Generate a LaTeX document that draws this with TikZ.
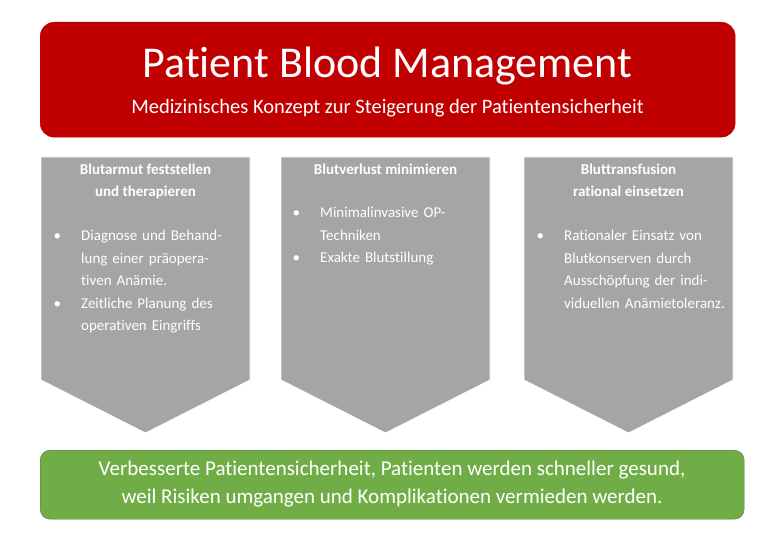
\documentclass[tikz,border=0pt]{standalone}
\usepackage{fontspec}
\setmainfont{Carlito}[Ligatures=CommonOff]
\definecolor{pbred}{HTML}{C00000}
\definecolor{pbgray}{HTML}{A5A5A5}
\definecolor{pbgreen}{HTML}{70AD47}
\definecolor{pbgreenb}{HTML}{507E32}
\newcommand{\bitem}[1]{\makebox[0pt][r]{\textbullet\hspace{20pt}}#1\par}
\begin{document}
\begin{tikzpicture}[x=1pt,y=-1pt,
  arrowbox/.style={fill=pbgray,draw=white,line width=0.8pt},
  head/.style={text=white,font=\bfseries\fontsize{15}{22.5}\selectfont,align=center,anchor=north},
  body/.style={text=white,font=\fontsize{15}{22.5}\selectfont,align=left,anchor=north west,inner sep=0pt}]
\useasboundingbox (0,0) rectangle (777,545);
\node[fill=pbred,draw=pbred,rounded corners=14pt,minimum width=695pt,minimum height=115pt,anchor=north west] (title) at (40,22) {};
\node[text=white,font=\fontsize{44}{50}\selectfont] (t1) at (387.5,66) {Patient Blood Management};
\node[text=white,font=\fontsize{20.5}{24}\selectfont] (t2) at (387.5,108) {Medizinisches Konzept zur Steigerung der Patientensicherheit};
\foreach \n/\x in {a/41,b/281,c/524}{
  \draw[arrowbox] (\x,157) -- (\x+209,157) -- (\x+209,380) -- (\x+104.5,433) -- (\x,380) -- cycle;
}
\node[head] (ha) at (145.5,160) {Blutarmut feststellen\\und therapieren};
\node[head] (hb) at (385.5,160) {Blutverlust minimieren};
\node[head] (hc) at (628.5,160) {Bluttransfusion\\rational einsetzen};
\node[body,text width=150pt] (ba) at (81,230) {\bitem{Diagnose und Behandlung einer präoperativen Anämie.}\bitem{Zeitliche Planung des operativen Eingriffs}};
\node[body,text width=160pt] (bb) at (320,207) {\bitem{Minimalinvasive OP-\\Techniken}\bitem{Exakte Blutstillung}};
\node[body,text width=165pt] (bc) at (564,230) {\bitem{Rationaler Einsatz von Blutkonserven durch Ausschöpfung der individuellen Anämietoleranz.}};
\node[fill=pbgreen,draw=pbgreenb,rounded corners=10pt,minimum width=704pt,minimum height=69pt,anchor=north west] (res) at (40,450) {};
\node[text=white,font=\fontsize{21}{28}\selectfont,align=center] (rt) at (392,484.5) {Verbesserte Patientensicherheit, Patienten werden schneller gesund,\\weil Risiken umgangen und Komplikationen vermieden werden.};
\end{tikzpicture}
\end{document}
